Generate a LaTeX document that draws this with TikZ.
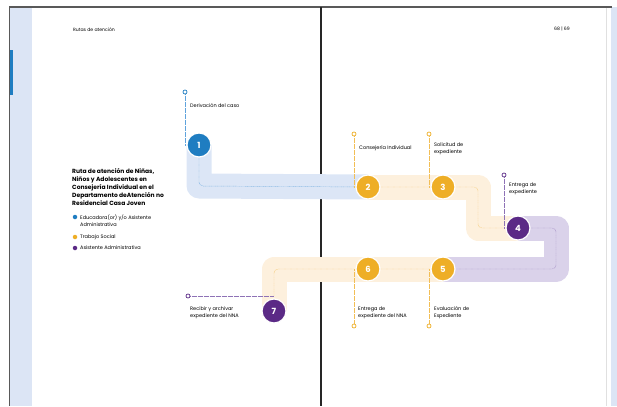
\documentclass[tikz,border=0pt]{standalone}
\usepackage{fontspec}
\setmainfont{Poppins}
\usetikzlibrary{positioning, backgrounds}
\definecolor{cblue}{HTML}{1F7DC1}
\definecolor{corange}{HTML}{EEAE26}
\definecolor{cpurple}{HTML}{5B2A86}
\definecolor{bandblue}{HTML}{DCE6F6}
\definecolor{bandorange}{HTML}{FDF0DD}
\definecolor{bandpurple}{HTML}{DAD2EA}
\definecolor{trailblue}{HTML}{5FA3DC}
\definecolor{trailorange}{HTML}{F2BE55}
\definecolor{trailpurple}{HTML}{8E72B6}
\definecolor{stripblue}{HTML}{DCE5F5}
\tikzset{
  num/.style={circle, draw=white, line width=1.2pt, minimum size=24pt,
              inner sep=0pt, text=white, font=\fontsize{8.5}{8.5}\selectfont\bfseries},
  band/.style={line width=25pt, line join=round},
  trail/.style={dash pattern=on 0.45pt off 0.75pt, line width=0.45pt, rounded corners=4pt},
  pinmark/.style={circle, draw, line width=0.7pt, fill=white, minimum size=4pt, inner sep=0pt},
  lbl/.style={anchor=west, align=left, inner sep=0pt, font=\fontsize{5}{7}\selectfont},
  legdot/.style={circle, minimum size=4.5pt, inner sep=0pt}
}
\begin{document}
\begin{tikzpicture}[x=1pt, y=-1pt, node distance=2.5pt]
  \useasboundingbox (0,0) rectangle (617,406);

  % steps
  \node[num, fill=cblue]   (n1) at (199,145) {1};
  \node[num, fill=corange] (n2) at (368,187) {2};
  \node[num, fill=corange] (n3) at (443,187) {3};
  \node[num, fill=cpurple] (n4) at (518,228) {4};
  \node[num, fill=corange] (n5) at (443,269) {5};
  \node[num, fill=corange] (n6) at (368,269) {6};
  \node[num, fill=cpurple] (n7) at (274,311) {7};

  % pins
  \node[pinmark, draw=cblue]   (m1) at (185,92)  {};
  \node[pinmark, draw=corange] (m2) at (354,134) {};
  \node[pinmark, draw=corange] (m3) at (429,134) {};
  \node[pinmark, draw=cpurple] (m4) at (504,175) {};
  \node[pinmark, draw=corange] (m6) at (354,326) {};
  \node[pinmark, draw=corange] (m5) at (429,326) {};
  \node[pinmark, draw=cpurple] (m7) at (188,296) {};

  % turns
  \coordinate (t1) at (199,186);
  \coordinate (t2) at (478,187);
  \coordinate (t3) at (478,228);
  \coordinate (t4) at (556,228);
  \coordinate (t5) at (556,269);
  \coordinate (t6) at (274,269);
  \coordinate (t7) at (274,296);

  % labels
  \node[lbl] (l1) at (190,106) {Derivación del caso};
  \node[lbl] (l2) at (359,148) {Consejería Individual};
  \node[lbl] (l3) at (434,148.5) {Solicitud de\\expediente};
  \node[lbl] (l4) at (509,189) {Entrega de\\expediente};
  \node[lbl] (l6) at (358,312.5) {Entrega de\\expediente del NNA};
  \node[lbl] (l5) at (434,312.5) {Evaluación de\\Expediente};
  \node[lbl] (l7) at (190,312.5) {Recibir y archivar\\expediente del NNA};

  % header
  \node[lbl, font=\fontsize{4.6}{5}\selectfont] (head) at (73,30) {Rutas de atención};
  \node[lbl, font=\fontsize{4.6}{5}\selectfont] (page) at (554,28.5) {68 | 69};

  % title and legend
  \node[anchor=north west, align=left, inner sep=0pt,
        font=\fontsize{6}{7.9}\selectfont\bfseries] (title) at (72,168.5)
    {Ruta de atención de Niñas,\\Niños y Adolescentes en\\Consejería Individual en el\\Departamento deAtención no\\Residencial Casa Joven};
  \node[legdot, fill=cblue]   (d1) at (75,217) {};
  \node[legdot, fill=corange] (d2) at (75,237) {};
  \node[legdot, fill=cpurple] (d3) at (75,248) {};
  \node[lbl] (e1) at (80,221) {Educadora(or) y/o Asistente\\Administrativa};
  \node[lbl, right=of d2] (e2) {Trabajo Social};
  \node[lbl, right=of d3] (e3) {Asistente Administrativa};

  \begin{scope}[on background layer]
    % page
    \fill[stripblue] (10,7) rectangle (32,406);
    \fill[stripblue] (611,7) rectangle (617,406);
    \fill[cblue] (9,50) rectangle (13,95);
    \draw[black!12, line width=0.4pt] (606,7) -- (606,406);
    \draw[black!65, line width=1.3pt] (9,7) -- (612,7);
    \draw[black!65, line width=1.5pt] (9.5,7) -- (9.5,406);
    \draw[black!85, line width=1.6pt] (321,7) -- (321,406);

    % bands
    \draw[band, bandblue]   (n1.center) -- (t1) -- (n2.center);
    \draw[band, bandorange] (n2.center) -- (t2) -- (t3) -- (n4.center);
    \draw[band, bandpurple] (n4.center) -- (t4) -- (t5) -- (n5.center);
    \draw[band, bandorange] (n5.center) -- (t6) -- (n7.center);

    % trails
    \draw[trail, trailblue]   (n1.center) -- (t1) -- (n2.center);
    \draw[trail, trailorange] (n2.center) -- (t2) -- (t3) -- (n4.center);
    \draw[trail, trailpurple] (n4.center) -- (t4) -- (t5) -- (n5.center);
    \draw[trail, trailorange] (n5.center) -- (t6) -- (t7);
    \draw[trail, trailpurple] (m7) -- (t7);
    \draw[trail, trailblue]   (m1) -- (m1 |- n1);
    \draw[trail, trailorange] (m2) -- (m2 |- n2);
    \draw[trail, trailorange] (m3) -- (m3 |- n3);
    \draw[trail, trailpurple] (m4) -- (m4 |- n4);
    \draw[trail, trailorange] (m6) -- (m6 |- n6);
    \draw[trail, trailorange] (m5) -- (m5 |- n5);
  \end{scope}

\end{tikzpicture}
\end{document}
